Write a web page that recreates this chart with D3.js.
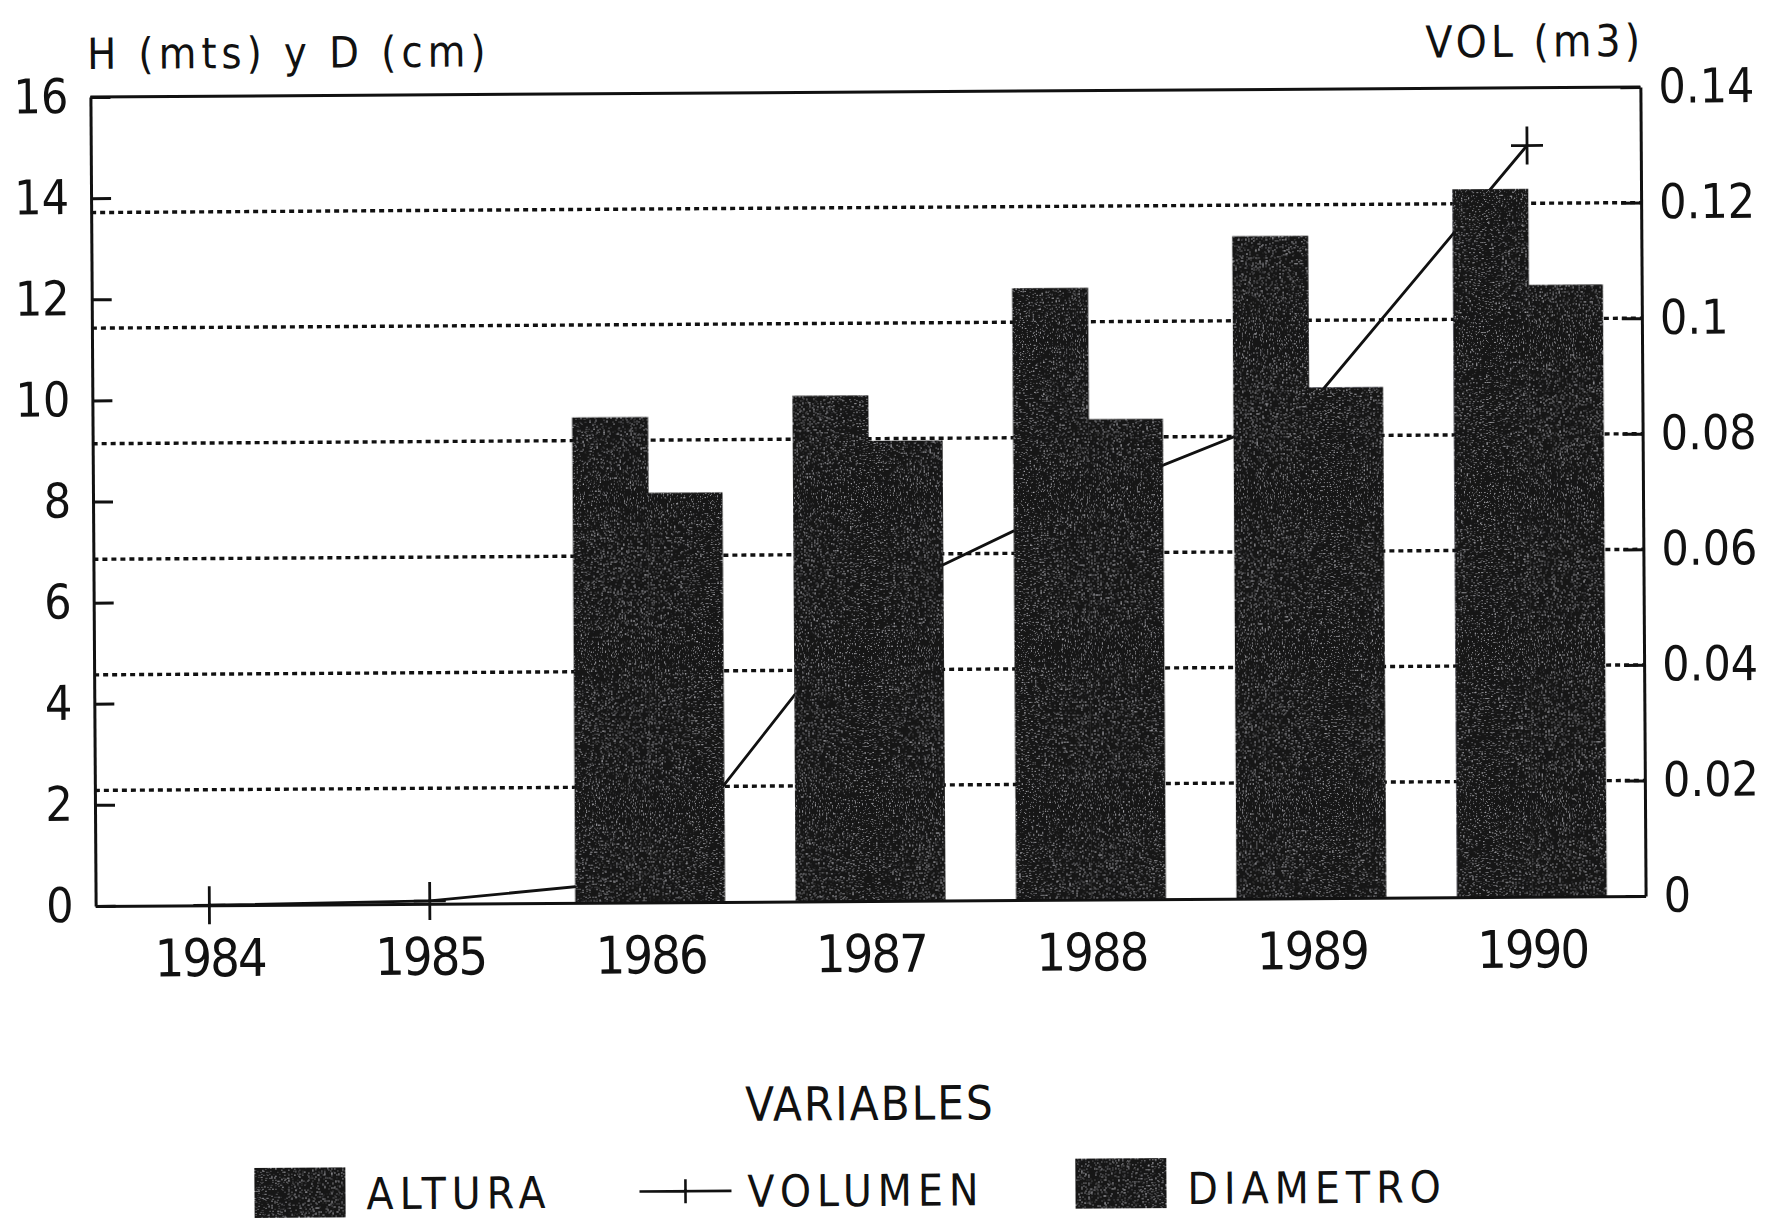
<!DOCTYPE html>
<html>
<head>
<meta charset="utf-8">
<script src="https://cdn.jsdelivr.net/npm/d3@7"></script>
<style>
  body { margin: 0; background: #fff; }
  text { font-family: 'DejaVu Sans Condensed', 'DejaVu Sans', sans-serif; font-stretch: condensed; fill: #111; }
</style>
</head>
<body>
<div id="chart"></div>
<script>
// H, D and volume per year - grouped bars with a line on a second axis

const years = ["1984", "1985", "1986", "1987", "1988", "1989", "1990"];
const altura = [null, null, 9.6, 10.0, 12.1, 13.1, 14.0];       // H (mts)
const diametro = [null, null, 8.1, 9.1, 9.5, 10.1, 12.1];       // D (cm)
const volumen = [0, 0.0005, 0.004, 0.052, 0.070, 0.085, 0.130]; // VOL (m3)
const leftTicks = [0, 2, 4, 6, 8, 10, 12, 14, 16];
const rightTicks = [0, 0.02, 0.04, 0.06, 0.08, 0.1, 0.12, 0.14];
const legendLabels = ["ALTURA", "VOLUMEN", "DIAMETRO"];

const W = 1772, H = 1221;
const margin = { top: 92, right: 129, bottom: 320, left: 93 };
const width = W - margin.left - margin.right;
const height = H - margin.top - margin.bottom;
const barFill = "#171719";

const svg = d3.select("#chart").append("svg")
  .attr("width", W)
  .attr("height", H);

// speckled look of the bars
const defs = svg.append("defs");
const filt = defs.append("filter").attr("id", "speckle")
  .attr("x", 0).attr("y", 0).attr("width", 1).attr("height", 1);
filt.append("feTurbulence").attr("type", "fractalNoise")
  .attr("baseFrequency", 0.7).attr("numOctaves", 2).attr("seed", 4).attr("result", "noise");
filt.append("feColorMatrix").attr("in", "noise").attr("type", "matrix")
  .attr("values", "0 0 0 0 0.6  0 0 0 0 0.6  0 0 0 0 0.64  3 0 0 0 -1.85")
  .attr("result", "specks");
filt.append("feComposite").attr("in", "specks").attr("in2", "SourceGraphic")
  .attr("operator", "in").attr("result", "sp2");
const merge = filt.append("feMerge");
merge.append("feMergeNode").attr("in", "SourceGraphic");
merge.append("feMergeNode").attr("in", "sp2");

// the scan is slightly tilted
const root = svg.append("g").attr("transform", "rotate(-0.37, 868, 496)");
const g = root.append("g").attr("transform", `translate(${margin.left},${margin.top})`);

const x = d3.scalePoint().domain(years).range([0, width]).padding(0.516);
const y = d3.scaleLinear().domain([0, 16]).range([height, 0]);
const yR = d3.scaleLinear().domain([0, 0.14]).range([height, 0]);
const bw = x.step() * 0.34;

// dotted grid at the volume ticks
g.selectAll(".grid")
  .data(rightTicks.filter(d => d > 0 && d < 0.14))
  .join("line")
  .attr("class", "grid")
  .attr("x1", 0).attr("x2", width)
  .attr("y1", d => yR(d)).attr("y2", d => yR(d))
  .attr("stroke", "#111")
  .attr("stroke-width", 3.4)
  .attr("stroke-dasharray", "5,4");

// volume line (sits behind the bars)
const volData = years.map((yr, i) => ({ year: yr, v: volumen[i] }));
g.append("path")
  .datum(volData)
  .attr("fill", "none")
  .attr("stroke", "#111")
  .attr("stroke-width", 2.8)
  .attr("d", d3.line().x(d => x(d.year)).y(d => yR(d.v)));

g.selectAll(".mark")
  .data(volData)
  .join("path")
  .attr("class", "mark")
  .attr("transform", d => `translate(${x(d.year)},${yR(d.v)})`)
  .attr("d", "M-16,0H16M0,-19V19")
  .attr("stroke", "#111")
  .attr("stroke-width", 2.8);

// bars
const barData = years.map((yr, i) => ({ year: yr, h: altura[i], d: diametro[i] }))
  .filter(d => d.h != null);

g.selectAll(".bar-h")
  .data(barData)
  .join("rect")
  .attr("class", "bar-h")
  .attr("x", d => x(d.year) - bw)
  .attr("y", d => y(d.h))
  .attr("width", bw + 1)
  .attr("height", d => height - y(d.h))
  .attr("fill", barFill)
  .attr("filter", "url(#speckle)");

g.selectAll(".bar-d")
  .data(barData)
  .join("rect")
  .attr("class", "bar-d")
  .attr("x", d => x(d.year))
  .attr("y", d => y(d.d))
  .attr("width", bw)
  .attr("height", d => height - y(d.d))
  .attr("fill", barFill)
  .attr("filter", "url(#speckle)");

// axes
const leftAxis = g.append("g")
  .call(d3.axisLeft(y).tickValues(leftTicks).tickSize(-20).tickSizeOuter(0).tickPadding(22));
const rightAxis = g.append("g")
  .attr("transform", `translate(${width},0)`)
  .call(d3.axisRight(yR).tickValues(rightTicks).tickFormat(d3.format("~g"))
    .tickSize(-20).tickSizeOuter(0).tickPadding(18));
const bottomAxis = g.append("g")
  .attr("transform", `translate(0,${height})`)
  .call(d3.axisBottom(x).tickSize(0).tickPadding(34));

[leftAxis, rightAxis, bottomAxis].forEach(a => {
  a.selectAll("path, line").attr("stroke", "#111").attr("stroke-width", 3);
  a.selectAll("text").attr("fill", "#111");
});
leftAxis.selectAll("text").style("font-size", "48px");
rightAxis.selectAll("text").style("font-size", "48px");
bottomAxis.selectAll("text").style("font-size", "52px").style("letter-spacing", "-2px");

// top frame line
g.append("line")
  .attr("x1", 0).attr("x2", width)
  .attr("y1", 0).attr("y2", 0)
  .attr("stroke", "#111").attr("stroke-width", 3);

// axis titles
g.append("text")
  .attr("x", -3).attr("y", -28)
  .style("font-size", "43px")
  .style("letter-spacing", "5px")
  .text("H (mts) y D (cm)");

g.append("text")
  .attr("x", width + 4).attr("y", -31)
  .attr("text-anchor", "end")
  .style("font-size", "44px")
  .style("letter-spacing", "4px")
  .text("VOL (m3)");

// legend
const lg = root.append("g");
lg.append("text")
  .attr("x", 866).attr("y", 1120)
  .attr("text-anchor", "middle")
  .style("font-size", "47px")
  .style("letter-spacing", "2px")
  .text("VARIABLES");

lg.append("rect")
  .attr("x", 250).attr("y", 1164).attr("width", 91).attr("height", 50)
  .attr("fill", barFill).attr("filter", "url(#speckle)");
lg.append("text")
  .attr("x", 362).attr("y", 1206)
  .style("font-size", "44px")
  .style("letter-spacing", "6px")
  .text(legendLabels[0]);

lg.append("path")
  .attr("d", "M635,1190H727M681,1178V1202")
  .attr("stroke", "#111").attr("stroke-width", 2.6);
lg.append("text")
  .attr("x", 743).attr("y", 1206)
  .style("font-size", "44px")
  .style("letter-spacing", "6px")
  .text(legendLabels[1]);

lg.append("rect")
  .attr("x", 1071).attr("y", 1160).attr("width", 91).attr("height", 50)
  .attr("fill", barFill).attr("filter", "url(#speckle)");
lg.append("text")
  .attr("x", 1183).attr("y", 1206)
  .style("font-size", "44px")
  .style("letter-spacing", "6px")
  .text(legendLabels[2]);
</script>
</body>
</html>
